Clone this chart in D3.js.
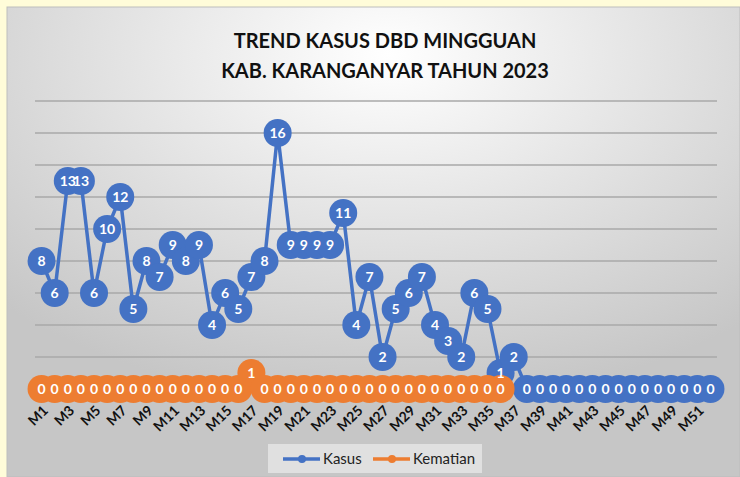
<!DOCTYPE html>
<html>
<head>
<meta charset="utf-8">
<script src="https://cdn.jsdelivr.net/npm/d3@7"></script>
<style>
  body { margin: 0; background: #fffcd9; }
  svg { display: block; font-family: Lato, "Open Sans", sans-serif; }
</style>
</head>
<body>
<svg id="chart"></svg>
<script>
const weeks = d3.range(1, 53).map(i => 'M' + i);
const kasus = [8, 6, 13, 13, 6, 10, 12, 5, 8, 7, 9, 8, 9, 4, 6, 5, 7, 8, 16, 9, 9, 9, 9, 11, 4, 7, 2, 5, 6, 7, 4, 3, 2, 6, 5, 1, 2,
  0, 0, 0, 0, 0, 0, 0, 0, 0, 0, 0, 0, 0, 0, 0];
const kematian = [0, 0, 0, 0, 0, 0, 0, 0, 0, 0, 0, 0, 0, 0, 0, 0, 1, 0, 0, 0, 0, 0, 0, 0, 0, 0, 0, 0, 0, 0, 0, 0, 0, 0, 0, 0];
const yTicks = [2, 4, 6, 8, 10, 12, 14, 16, 18];
const titleLines = ['TREND KASUS DBD MINGGUAN', 'KAB. KARANGANYAR TAHUN 2023'];

const width = 740, height = 477;
const svg = d3.select('#chart').attr('width', width).attr('height', height);

// background gradient
const defs = svg.append('defs');
const grad = defs.append('radialGradient')
  .attr('id', 'bg')
  .attr('cx', '52%').attr('cy', '10%').attr('r', '75%')
  .attr('gradientUnits', 'objectBoundingBox');
grad.append('stop').attr('offset', '0%').attr('stop-color', '#ffffff');
grad.append('stop').attr('offset', '100%').attr('stop-color', '#c6c6c6');

svg.append('rect')
  .attr('x', 7).attr('y', 7)
  .attr('width', width - 7).attr('height', height - 7)
  .attr('fill', 'url(#bg)')
  .attr('stroke', '#bdbdbd').attr('stroke-width', 1);

// title
svg.append('g').selectAll('text')
  .data(titleLines)
  .enter().append('text')
  .attr('x', 385)
  .attr('y', (d, i) => 48 + i * 30)
  .attr('text-anchor', 'middle')
  .attr('font-size', 20)
  .attr('font-weight', 'bold')
  .attr('fill', '#111')
  .text(d => d);

const x = d3.scalePoint().domain(weeks).range([35, 717]).padding(0.5);
const y = d3.scaleLinear().domain([0, 18]).range([389, 101]);

// grid
svg.append('g').selectAll('line')
  .data(yTicks)
  .enter().append('line')
  .attr('x1', 35).attr('x2', 717)
  .attr('y1', d => y(d)).attr('y2', d => y(d))
  .attr('stroke', '#a9a9a9')
  .attr('stroke-width', 1.5);

const line = d3.line().x(d => x(d.week)).y(d => y(d.value));

function drawSeries(values, color) {
  const data = values.map((v, i) => ({ week: weeks[i], value: v }));
  const g = svg.append('g');
  g.append('path')
    .datum(data)
    .attr('fill', 'none')
    .attr('stroke', color)
    .attr('stroke-width', 3.5)
    .attr('d', line);
  g.selectAll('circle')
    .data(data)
    .enter().append('circle')
    .attr('cx', d => x(d.week))
    .attr('cy', d => y(d.value))
    .attr('r', 14)
    .attr('fill', color);
  return data;
}

const kasusData = drawSeries(kasus, '#4472c4');
const kematianData = drawSeries(kematian, '#ed7d31');

// x axis labels (drawn after the markers so they stay visible)
svg.append('g').selectAll('text')
  .data(weeks.filter((d, i) => i % 2 === 0))
  .enter().append('text')
  .attr('transform', d => `translate(${x(d) + 4},${408}) rotate(-45)`)
  .attr('text-anchor', 'end')
  .attr('dy', '0.35em')
  .attr('font-size', 14)
  .attr('font-weight', 'bold')
  .attr('fill', '#111')
  .text(d => d);

// data labels
svg.append('g').selectAll('text')
  .data(kasusData.concat(kematianData))
  .enter().append('text')
  .attr('x', d => x(d.week))
  .attr('y', d => y(d.value))
  .attr('dy', '0.36em')
  .attr('text-anchor', 'middle')
  .attr('font-size', 14)
  .attr('font-weight', 'bold')
  .attr('fill', '#fff')
  .text(d => d.value);

// legend
const legend = svg.append('g');
legend.append('rect')
  .attr('x', 268).attr('y', 444)
  .attr('width', 214).attr('height', 29)
  .attr('fill', '#e0e0e0');
const items = [
  { name: 'Kasus', color: '#4472c4', x: 283 },
  { name: 'Kematian', color: '#ed7d31', x: 373 }
];
items.forEach(it => {
  legend.append('line')
    .attr('x1', it.x).attr('x2', it.x + 37)
    .attr('y1', 459).attr('y2', 459)
    .attr('stroke', it.color).attr('stroke-width', 3.5);
  legend.append('circle')
    .attr('cx', it.x + 19).attr('cy', 459).attr('r', 4)
    .attr('fill', it.color);
  legend.append('text')
    .attr('x', it.x + 40).attr('y', 459)
    .attr('dy', '0.35em')
    .attr('font-size', 15)
    .attr('fill', '#222')
    .text(it.name);
});
</script>
</body>
</html>
